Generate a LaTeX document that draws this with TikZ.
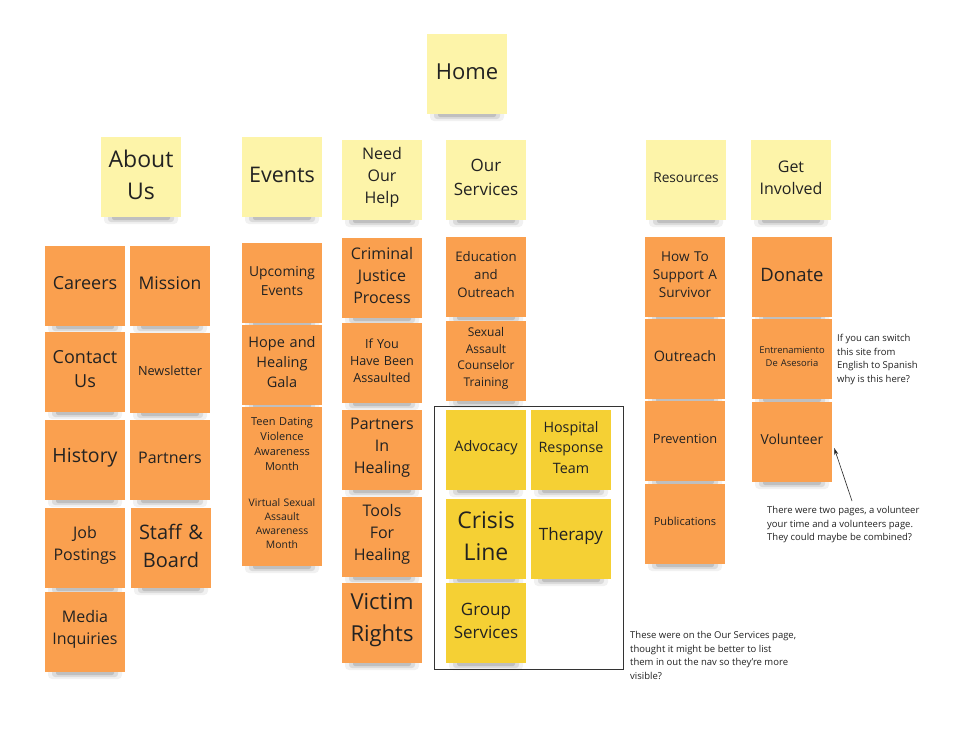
\documentclass[tikz,border=0pt]{standalone}
\usepackage{fontspec}
\setmainfont{Open Sans}
\definecolor{hdr}{HTML}{FDF4A9}
\definecolor{org}{HTML}{FAA04F}
\definecolor{ylw}{HTML}{F5D034}
\definecolor{txt}{HTML}{222222}
\definecolor{shadowc}{HTML}{202020}
\usetikzlibrary{arrows.meta}
\tikzset{
  note/.style={minimum width=80pt, minimum height=80pt, inner sep=0pt},
  notetext/.style={inner sep=0pt, align=center, text=txt, text width=76pt},
  remark/.style={anchor=north west, inner sep=0pt, align=left, text=txt, font=\fontsize{9.5}{13.7}\selectfont},
  frame/.style={draw=black!80, line width=1pt, minimum width=189pt, minimum height=263pt, inner sep=0pt},
  pointer/.style={draw=black!85, line width=0.6pt, -{Stealth[length=7pt,width=4pt]}}
}
\newcommand\snote[7]{%
  \fill[shadowc,opacity=.06,rounded corners=4pt] ({#2+3},{#3+68}) rectangle ({#2+77},{#3+87});
  \fill[shadowc,opacity=.10,rounded corners=3pt] ({#2+7},{#3+73}) rectangle ({#2+73},{#3+85});
  \fill[shadowc,opacity=.15,rounded corners=2pt] ({#2+11},{#3+77}) rectangle ({#2+69},{#3+83});
  \node[note,fill=#4] (#1) at ({#2+40},{#3+40}) {};
  \node[notetext,font=\fontsize{#5}{#6}\selectfont] (#1-t) at ([yshift=2.5pt]#1.center) {#7};
}
\begin{document}
\begin{tikzpicture}[x=1pt,y=-1pt]
\useasboundingbox[fill=white] (0,0) rectangle (974,740);
% headers
\snote{home}{427}{34}{hdr}{22}{28}{Home}
\snote{about}{101}{137}{hdr}{23}{32}{About\\Us}
\snote{events}{242}{137}{hdr}{21.5}{28}{Events}
\snote{needhelp}{342}{140}{hdr}{16}{22}{Need\\Our\\Help}
\snote{services}{446}{140}{hdr}{17}{24}{Our\\Services}
\snote{resources}{646}{140}{hdr}{13.7}{18}{Resources}
\snote{involved}{751}{140}{hdr}{16}{22}{Get\\Involved}
% About Us
\snote{careers}{45}{246}{org}{18}{24}{Careers}
\snote{mission}{130}{246}{org}{17.5}{24}{Mission}
\snote{contact}{45}{332}{org}{18}{24}{Contact\\Us}
\snote{newsletter}{130}{333}{org}{12.7}{17}{Newsletter}
\snote{history}{45}{420}{org}{19.5}{24}{History}
\snote{partners}{130}{420}{org}{16}{22}{Partners}
\snote{jobs}{45}{508}{org}{16}{22}{Job\\Postings}
\snote{staff}{131}{508}{org}{20}{28}{Staff \&\\Board}
\snote{media}{45}{592}{org}{16}{22}{Media\\Inquiries}
% Events
\snote{upcoming}{242}{243}{org}{13.8}{19}{Upcoming\\Events}
\snote{gala}{242}{325}{org}{14.5}{20}{Hope and\\Healing\\Gala}
\snote{teen}{242}{407}{org}{11}{15}{Teen Dating\\Violence\\Awareness\\Month}
\snote{virtual}{242}{486}{org}{10.4}{14}{Virtual Sexual\\Assault\\Awareness\\Month}
% Need Our Help
\snote{criminal}{342}{238}{org}{16}{22}{Criminal\\Justice\\Process}
\snote{assaulted}{342}{323}{org}{12.6}{17}{If You\\Have Been\\Assaulted}
\snote{pih}{342}{410}{org}{16}{22}{Partners\\In\\Healing}
\snote{tools}{342}{497}{org}{16}{22}{Tools\\For\\Healing}
\snote{victim}{342}{583}{org}{22}{32}{Victim\\Rights}
% Our Services
\snote{education}{446}{237}{org}{13.2}{18}{Education\\and\\Outreach}
\snote{sact}{446}{321}{org}{12}{16.7}{Sexual\\Assault\\Counselor\\Training}
\node[frame] (servbox) at (528.5,537.5) {};
\snote{advocacy}{446}{410}{ylw}{14.5}{20}{Advocacy}
\snote{hospital}{531}{410}{ylw}{14.3}{20.5}{Hospital\\Response\\Team}
\snote{crisis}{446}{499}{ylw}{23}{32}{Crisis\\Line}
\snote{therapy}{531}{499}{ylw}{17}{23}{Therapy}
\snote{group}{446}{583}{ylw}{17}{23}{Group\\Services}
% Resources
\snote{support}{645}{237}{org}{13.6}{18}{How To\\Support A\\Survivor}
\snote{outreach}{645}{319}{org}{14.4}{20}{Outreach}
\snote{prevention}{645}{401}{org}{12.8}{17}{Prevention}
\snote{publications}{645}{484}{org}{11}{15}{Publications}
% Get Involved
\snote{donate}{752}{237}{org}{18.5}{24}{Donate}
\snote{entren}{752}{319}{org}{9.4}{13}{Entrenamiento\\De Asesoria}
\snote{volunteer}{752}{402}{org}{13.8}{19}{Volunteer}
% remarks
\node[remark] (rem1) at (837,334) {If you can switch\\this site from\\English to Spanish\\why is this here?};
\node[remark] (rem2) at (767,506) {There were two pages, a volunteer\\your time and a volunteers page.\\They could maybe be combined?};
\node[remark] (rem3) at (630,631) {These were on the Our Services page,\\thought it might be better to list\\them in out the nav so they're more\\visible?};
\coordinate (arrstart) at (852,501);
\draw[pointer] (arrstart) -- ([xshift=2pt,yshift=-6pt]volunteer.east);
\end{tikzpicture}
\end{document}
